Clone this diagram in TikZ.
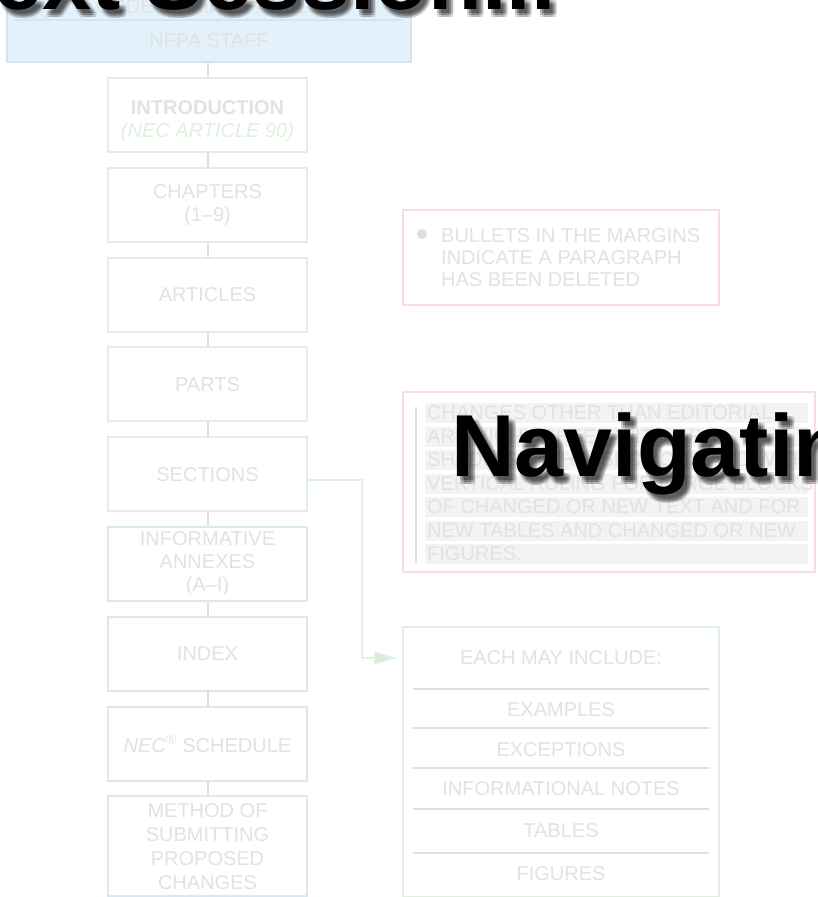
\documentclass[tikz,border=0pt]{standalone}
\usepackage{fontspec}
\setmainfont{Liberation Sans}
\usetikzlibrary{positioning,arrows.meta}
\definecolor{inkgray}{RGB}{226,226,226}
\definecolor{greenline}{RGB}{226,240,226}
\definecolor{blueline}{RGB}{216,233,244}
\definecolor{pinkline}{RGB}{246,222,226}
\definecolor{stafffill}{RGB}{227,241,251}
\definecolor{staffline}{RGB}{214,228,236}
\definecolor{linkgray}{RGB}{222,222,222}
\definecolor{introgreen}{RGB}{222,240,222}
\definecolor{shadegray}{RGB}{243,243,243}
\definecolor{arrowgreen}{RGB}{214,236,214}
\tikzset{
    faint/.style={text=inkgray, font=\fontsize{20}{22}\selectfont, align=center, inner sep=2pt},
    box/.style={faint, draw=greenline, line width=2pt, minimum width=199pt, minimum height=74pt, font=\fontsize{20}{23}\selectfont},
    bluebox/.style={box, draw=blueline},
    pinkbox/.style={draw=pinkline, line width=2pt},
    topbox/.style={draw=staffline, fill=stafffill, line width=2pt, minimum width=404pt, minimum height=102pt},
    shadedline/.style={fill=shadegray, text=inkgray, font=\fontsize{20}{22}\selectfont, inner sep=0pt, minimum height=20pt, anchor=west},
    titletext/.style={font=\fontsize{88}{88}\selectfont\bfseries, anchor=base west, inner sep=0pt},
}

\begin{document}
\begin{tikzpicture}[x=1pt,y=-1pt,node distance=13.8pt]
    \useasboundingbox (0,0) rectangle (817,897);
    \clip (0,0) rectangle (817,897);
    \fill[white] (0,0) rectangle (817,897);

    % left column
    \node[topbox] (staff) at (209,11) {};
    \draw[staffline, line width=1.5pt] (15,20) -- (403,20);
    \node[faint] (panels) at (209,7) {CODE-MAKING PANELS};
    \node[faint] (nfpa) at (209,41) {NFPA STAFF};

    \node[box, inner ysep=0pt, text height=49pt] (intro) at (207.5,115) {\textbf{INTRODUCTION}\\\textcolor{introgreen}{\itshape(NEC ARTICLE 90)}};
    \node[box, below=of intro] (chapters) {CHAPTERS\\(1--9)};
    \node[box, below=of chapters] (articles) {ARTICLES};
    \node[box, below=of articles] (parts) {PARTS};
    \node[box, below=of parts] (sections) {SECTIONS};
    \node[bluebox, below=of sections] (annexes) {INFORMATIVE\\ANNEXES\\(A--I)};
    \node[bluebox, below=of annexes] (index) {INDEX};
    \node[bluebox, below=of index] (schedule) {\textit{NEC}\textsuperscript{\textregistered} SCHEDULE};
    \node[bluebox, below=of schedule, minimum height=100pt, font=\fontsize{20}{24}\selectfont] (method) {METHOD OF\\SUBMITTING\\PROPOSED\\CHANGES};

    \draw[linkgray, line width=2pt] (intro.north) -- (intro.north |- staff.south);
    \foreach \a/\b in {intro/chapters,chapters/articles,articles/parts,parts/sections,sections/annexes,annexes/index,index/schedule,schedule/method}
        \draw[linkgray, line width=2pt] (\a) -- (\b);

    % right column
    \node[pinkbox, minimum width=316pt, minimum height=95pt] (bullets) at (561,257.5) {};
    \node[circle, fill=linkgray, inner sep=0pt, minimum size=10pt] (bdot) at (422,234) {};
    \node[faint, anchor=west, align=left] (btext) at (439,258) {BULLETS IN THE MARGINS\\INDICATE A PARAGRAPH\\HAS BEEN DELETED};

    \node[pinkbox, minimum width=412pt, minimum height=180pt] (changes) at (609,482) {};
    \draw[linkgray, line width=2.5pt] (416,407) -- (416,563);
    \foreach \txt [count=\i] in {CHANGES OTHER THAN EDITORIAL,ARE HIGHLIGHTED WITH GRAY,SHADING WITHIN SECTIONS AND WITH,VERTICAL RULING FOR LARGE BLOCKS,OF CHANGED OR NEW TEXT AND FOR,NEW TABLES AND CHANGED OR NEW,FIGURES.}
        \node[shadedline] (chg\i) at (425,{413+23.5*(\i-1)}) {\makebox[383pt][l]{\hspace{2pt}\txt}};

    \node[box, minimum width=316pt, minimum height=270pt] (include) at (561,762) {};
    \node[faint] (inchead) at (561,658) {EACH MAY INCLUDE:};
    \foreach \txt/\y [count=\i] in {EXAMPLES/710,EXCEPTIONS/750,INFORMATIONAL NOTES/789,TABLES/831,FIGURES/874}
        \node[faint] (item\i) at (561,\y) {\txt};
    \foreach \y in {689,728,768,809,853}
        \draw[linkgray, line width=1.5pt] (413,\y) -- (709,\y);

    \draw[greenline, line width=2pt, shorten >=5pt, -{Triangle[length=23pt,width=13pt,fill=arrowgreen]}]
        ([yshift=-6pt]sections.east) -- ++(54,0) |- (inchead -| include.west);

    % titles with soft shadow
    \foreach \dx in {3,5,7} \foreach \dy in {4,6,8} {
        \node[titletext, text=black, text opacity=0.1] (shdtop\dx\dy) at (-54+\dx,9+\dy) {Text Session...};
        \node[titletext, text=black, text opacity=0.1] (shdnav\dx\dy) at (451+\dx,476+\dy) {Navigating};
    }
    \node[titletext] (titletop) at (-54,9) {Text Session...};
    \node[titletext] (titlenav) at (451,476) {Navigating};
\end{tikzpicture}
\end{document}
